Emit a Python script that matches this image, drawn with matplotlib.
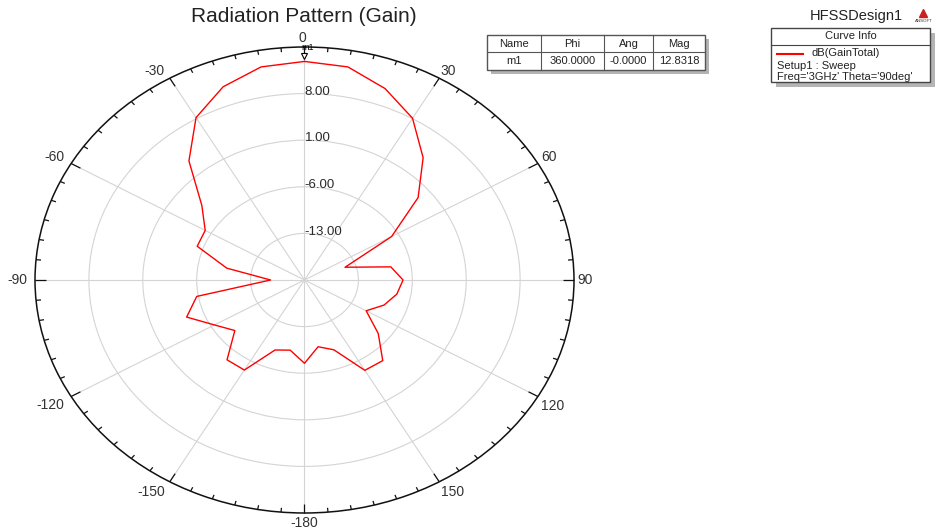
import numpy as np
import matplotlib
matplotlib.use("Agg")
import matplotlib.pyplot as plt
from matplotlib.patches import Rectangle
from matplotlib.lines import Line2D
import matplotlib.transforms as mtransforms

plt.rcParams['font.family'] = ['Liberation Sans', 'DejaVu Sans']

# Sweep over phi (deg) and total gain (dB)
phi_deg = [0, 10, 20, 30, 40, 50, 60, 70, 80, 90, 100, 110, 120, 130, 140, 150,
           160, 170, 180, 190, 200, 210, 220, 230, 240, 250, 260, 270, 280, 290,
           300, 310, 320, 330, 340, 350, 360]
gain_db = [12.8318, 12.5, 10.6, 8.06, 3.97, -0.74, -6.94, -14.4, -8.62, -7.2,
           -7.82, -9.0, -10.75, -7.5, -4.19, -4.33, -8.84, -9.82, -7.49, -9.3,
           -8.81, -4.38, -4.35, -8.19, -6.5, -3.71, -5.79, -15.6, -9.75, -5.17,
           -5.11, -2.6, 3.35, 8.17, 10.89, 12.5, 12.8318]

ring_values = [-13, -6, 1, 8]
ring_labels = ["-13.00", "-6.00", "1.00", "8.00"]
r_min, r_max = -20, 15

angle_ticks = [0, 30, 60, 90, 120, 150, 180, 210, 240, 270, 300, 330]
angle_labels = ["0", "30", "60", "90", "120", "150", "-180", "-150", "-120",
                "-90", "-60", "-30"]
# label nudges (pixels, x right / y down) from the rim point
angle_label_dx = [-2.5, 8.5, 11, 11.5, 14.5, 13, 0, -18, -21, -17.5, -17, -15]
angle_label_dy = [-9, -7.5, -6, 0, 9.5, 10, 10, 10, 8.5, 0, -6, -7]

marker_name = "m1"
marker_phi = 360.0
marker_ang = -0.0
marker_mag = 12.8318

W, H = 937, 531
fig = plt.figure(figsize=(W / 100, H / 100), dpi=100)
fig.patch.set_facecolor("white")


def fx(x):
    return x / W


def fy(y):
    return 1 - y / H


ax = fig.add_axes([fx(35), fy(513), (574 - 35) / W, (513 - 47) / H], projection="polar")
ax.set_aspect("auto")
ax.set_theta_zero_location("N")
ax.set_theta_direction(-1)
ax.set_ylim(r_min, r_max)

# grid
ax.set_rgrids(ring_values, labels=[""] * len(ring_values))
ax.set_thetagrids(angle_ticks, labels=[""] * len(angle_ticks))
ax.grid(True, color="#d4d4d4", linewidth=0.8)
ax.spines["polar"].set_color("#111111")
ax.spines["polar"].set_linewidth(1.1)
ax.tick_params(axis="both", length=0)

# inward tick marks around the rim: long every 30 deg, short every 5 deg
for a in range(0, 360, 5):
    depth = 1.4 if a % 30 == 0 else 0.65
    ax.plot([np.deg2rad(a)] * 2, [r_max, r_max - depth], color="#111111",
            linewidth=0.9, solid_capstyle="butt", clip_on=False)

# angle labels around the rim
for a, lab, dx, dy in zip(angle_ticks, angle_labels, angle_label_dx, angle_label_dy):
    tr = mtransforms.offset_copy(ax.transData, fig=fig, x=dx * 0.72, y=-dy * 0.72,
                                 units="points")
    ax.text(np.deg2rad(a), r_max, lab, ha="center", va="center", fontsize=10,
            color="#333333", transform=tr, clip_on=False)

# ring labels along the 0 deg spoke
for v, lab in zip(ring_values, ring_labels):
    ax.text(0, v, lab, ha="left", va="bottom", fontsize=9.5, color="#2a2a2a",
            transform=ax.transData + mtransforms.ScaledTranslation(0, -3 / 72, fig.dpi_scale_trans))

# pattern trace
ax.plot(np.deg2rad(phi_deg), gain_db, color="#ff0000", linewidth=1.0)

# marker m1
mk_off = mtransforms.offset_copy(ax.transData, fig=fig, x=0, y=4, units="points")
ax.plot([np.deg2rad(marker_phi)], [marker_mag], marker="v", markersize=5,
        markerfacecolor="white", markeredgecolor="black", markeredgewidth=0.8,
        transform=mk_off, clip_on=False)
lbl_off = mtransforms.offset_copy(ax.transData, fig=fig, x=-2, y=6.5, units="points")
ax.text(np.deg2rad(marker_phi), marker_mag, marker_name, fontsize=6.5, ha="left",
        va="bottom", transform=lbl_off, clip_on=False)

# title
fig.text(fx(304), fy(17), "Radiation Pattern (Gain)", ha="center", va="center",
         fontsize=15, color="#222222")

# marker table
fig.add_artist(Rectangle((fx(491), fy(74)), (705 - 487) / W, (70 - 35) / H,
                         transform=fig.transFigure, facecolor="#b4b4b4", edgecolor="none"))
fig.add_artist(Rectangle((fx(487), fy(70)), (705 - 487) / W, (70 - 35) / H,
                         transform=fig.transFigure, facecolor="white", edgecolor="#555555",
                         linewidth=1.0))
for xv in [541, 604, 653]:
    fig.add_artist(Line2D([fx(xv), fx(xv)], [fy(35), fy(70)], color="#555555",
                          linewidth=0.8, transform=fig.transFigure))
fig.add_artist(Line2D([fx(487), fx(705)], [fy(52), fy(52)], color="#555555",
                      linewidth=0.8, transform=fig.transFigure))
col_x = [514, 572.5, 628.5, 679]
head = ["Name", "Phi", "Ang", "Mag"]
row = [marker_name, f"{marker_phi:.4f}", f"{marker_ang:.4f}", f"{marker_mag:.4f}"]
for cx, h, r in zip(col_x, head, row):
    fig.text(fx(cx), fy(44), h, ha="center", va="center", fontsize=8, color="#222222")
    fig.text(fx(cx), fy(61.5), r, ha="center", va="center", fontsize=8, color="#222222")

# curve info box
fig.text(fx(856), fy(16), "HFSSDesign1", ha="center", va="center", fontsize=10.5,
         color="#222222")
fig.add_artist(Line2D([fx(923.5)], [fy(13)], marker="^", markersize=6,
                      color="#cc2020", transform=fig.transFigure))
fig.text(fx(923.5), fy(20.5), "ANSOFT", ha="center", va="center", fontsize=3.2,
         color="#333333")
fig.add_artist(Rectangle((fx(776), fy(87)), (930 - 771) / W, (82 - 28) / H,
                         transform=fig.transFigure, facecolor="#b4b4b4", edgecolor="none"))
fig.add_artist(Rectangle((fx(771), fy(82)), (930 - 771) / W, (82 - 28) / H,
                         transform=fig.transFigure, facecolor="white", edgecolor="#444444",
                         linewidth=1.0))
fig.add_artist(Line2D([fx(771), fx(930)], [fy(44.5), fy(44.5)], color="#444444",
                      linewidth=0.8, transform=fig.transFigure))
fig.text(fx(850.5), fy(36.5), "Curve Info", ha="center", va="center", fontsize=8,
         color="#222222")
fig.add_artist(Line2D([fx(777), fx(803)], [fy(53.5), fy(53.5)], color="#ff0000",
                      linewidth=1.5, transform=fig.transFigure))
fig.text(fx(812), fy(53.5), "dB(GainTotal)", ha="left", va="center", fontsize=8,
         color="#222222")
fig.text(fx(777), fy(66), "Setup1 : Sweep", ha="left", va="center", fontsize=8,
         color="#222222")
fig.text(fx(777), fy(77.5), "Freq='3GHz' Theta='90deg'", ha="left", va="center",
         fontsize=8, color="#222222")

fig.savefig("out.png", dpi=100, facecolor="white")
